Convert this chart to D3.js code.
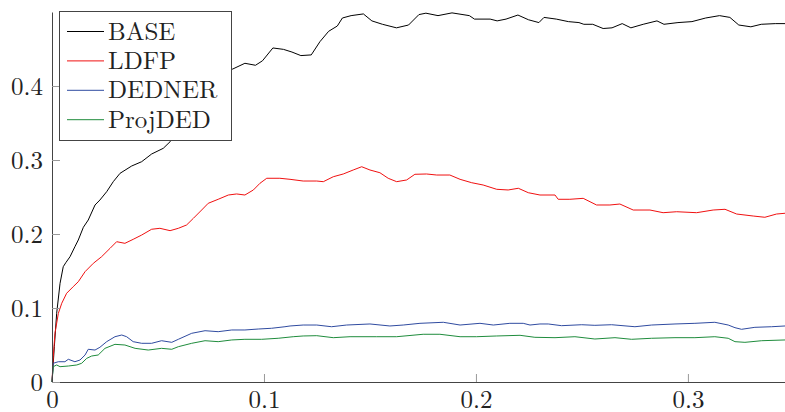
<!DOCTYPE html>
<html>
<head>
<meta charset="utf-8">
<script src="https://cdn.jsdelivr.net/npm/d3@7"></script>
<style>
  body { margin: 0; background: #fff; }
  svg { display: block; }
</style>
</head>
<body>
<svg id="chart" width="785" height="412"></svg>
<script>
// values: [x, y]
const seriesNames = ["BASE", "LDFP", "DEDNER", "ProjDED"];
const seriesColors = ["#000000", "#f01010", "#2f4ba0", "#1f8c3c"];

const baseData = [
  [0, 0], [0.0011, 0.0477], [0.0022, 0.0928], [0.0038, 0.1334], [0.0053, 0.1558],
  [0.0065, 0.1612], [0.0085, 0.1693], [0.0108, 0.1828], [0.0124, 0.1919], [0.0148, 0.2091],
  [0.0171, 0.2189], [0.0203, 0.2392], [0.0226, 0.2459], [0.0258, 0.2572], [0.0289, 0.2707],
  [0.0321, 0.2820], [0.0376, 0.2919], [0.0423, 0.2977], [0.0470, 0.3081], [0.0525, 0.3158],
  [0.0557, 0.3247], [0.0627, 0.345], [0.0698, 0.370], [0.0769, 0.400], [0.0850, 0.4226],
  [0.0910, 0.4307], [0.0960, 0.4280], [0.0993, 0.4341], [0.1042, 0.4514], [0.1092, 0.4495],
  [0.1132, 0.4459], [0.1174, 0.4411], [0.1223, 0.4420], [0.1264, 0.4599], [0.1305, 0.4739],
  [0.1346, 0.4811], [0.1370, 0.4919], [0.1411, 0.4951], [0.1469, 0.4974], [0.1509, 0.4880],
  [0.1559, 0.4834], [0.1625, 0.4786], [0.1682, 0.4824], [0.1731, 0.4965], [0.1764, 0.4984],
  [0.1821, 0.4951], [0.1887, 0.4988], [0.1969, 0.4951], [0.1993, 0.4904], [0.2067, 0.4904],
  [0.2100, 0.4880], [0.2142, 0.4904], [0.2198, 0.4959], [0.2248, 0.4895], [0.2297, 0.4857],
  [0.2321, 0.4927], [0.2379, 0.4904], [0.2436, 0.4870], [0.2486, 0.4857], [0.2509, 0.4834],
  [0.2551, 0.4834], [0.2600, 0.4777], [0.2642, 0.4786], [0.2690, 0.4843], [0.2731, 0.4786],
  [0.2789, 0.4834], [0.2854, 0.4880], [0.2887, 0.4834], [0.2953, 0.4857], [0.3019, 0.4870],
  [0.3084, 0.4919], [0.3149, 0.4951], [0.3198, 0.4927], [0.3240, 0.4824], [0.3297, 0.4800],
  [0.3346, 0.4834], [0.3412, 0.4843], [0.3458, 0.4843]
];

const ldfpData = [
  [0, 0], [0.0006, 0.0342], [0.0014, 0.0658], [0.0030, 0.0928], [0.0046, 0.1064],
  [0.0069, 0.1199], [0.0100, 0.1288], [0.0124, 0.1355], [0.0156, 0.1491], [0.0195, 0.1604],
  [0.0234, 0.1693], [0.0274, 0.1807], [0.0305, 0.1896], [0.0344, 0.1874], [0.0383, 0.1928],
  [0.0423, 0.1986], [0.0470, 0.2064], [0.0509, 0.2077], [0.0557, 0.2045], [0.0596, 0.2077],
  [0.0635, 0.2122], [0.0667, 0.2212], [0.0706, 0.2324], [0.0737, 0.2415], [0.0784, 0.2469],
  [0.0832, 0.2527], [0.0871, 0.2541], [0.0910, 0.2527], [0.0950, 0.2595], [0.0981, 0.2685],
  [0.1013, 0.2753], [0.1075, 0.2753], [0.1123, 0.2739], [0.1185, 0.2716], [0.1249, 0.2716],
  [0.1280, 0.2707], [0.1327, 0.2774], [0.1374, 0.2811], [0.1421, 0.2865], [0.1461, 0.2909],
  [0.1500, 0.2865], [0.1547, 0.2828], [0.1586, 0.2753], [0.1626, 0.2707], [0.1673, 0.2730],
  [0.1712, 0.2807], [0.1767, 0.2811], [0.1815, 0.2797], [0.1877, 0.2797], [0.1925, 0.2739],
  [0.1980, 0.2693], [0.2034, 0.2662], [0.2098, 0.2604], [0.2152, 0.2595], [0.2200, 0.2618],
  [0.2247, 0.2558], [0.2302, 0.2527], [0.2373, 0.2527], [0.2388, 0.2469], [0.2443, 0.2469],
  [0.2506, 0.2482], [0.2569, 0.2392], [0.2632, 0.2392], [0.2679, 0.2405], [0.2742, 0.2324],
  [0.2821, 0.2324], [0.2883, 0.2288], [0.2947, 0.2301], [0.3041, 0.2288], [0.3119, 0.2324],
  [0.3175, 0.2334], [0.3230, 0.2270], [0.3308, 0.2243], [0.3363, 0.2226], [0.3418, 0.2270],
  [0.3458, 0.2280]
];

const dednerData = [
  [0, 0], [0.0006, 0.0253], [0.0030, 0.0274], [0.0061, 0.0274], [0.0077, 0.0307],
  [0.0108, 0.0274], [0.0132, 0.0297], [0.0156, 0.0365], [0.0171, 0.0442], [0.0203, 0.0432],
  [0.0226, 0.0469], [0.0258, 0.0545], [0.0297, 0.0612], [0.0329, 0.0635], [0.0352, 0.0612],
  [0.0383, 0.0545], [0.0423, 0.0523], [0.0470, 0.0523], [0.0517, 0.0558], [0.0565, 0.0536],
  [0.0596, 0.0577], [0.0659, 0.0658], [0.0722, 0.0693], [0.0784, 0.0680], [0.0848, 0.0703],
  [0.0910, 0.0703], [0.0973, 0.0716], [0.1036, 0.0726], [0.1099, 0.0747], [0.1123, 0.0757],
  [0.1185, 0.0770], [0.1249, 0.0770], [0.1319, 0.0747], [0.1390, 0.0770], [0.1500, 0.0784],
  [0.1594, 0.0757], [0.1657, 0.0770], [0.1736, 0.0793], [0.1846, 0.0807], [0.1925, 0.0770],
  [0.2019, 0.0793], [0.2082, 0.0770], [0.2160, 0.0793], [0.2223, 0.0793], [0.2255, 0.0770],
  [0.2302, 0.0784], [0.2341, 0.0784], [0.2404, 0.0761], [0.2499, 0.0774], [0.2561, 0.0766],
  [0.2640, 0.0774], [0.2750, 0.0747], [0.2829, 0.0770], [0.2939, 0.0784], [0.3033, 0.0793],
  [0.3127, 0.0807], [0.3190, 0.0770], [0.3222, 0.0734], [0.3253, 0.0712], [0.3316, 0.0739],
  [0.3395, 0.0747], [0.3458, 0.0757]
];

const projdedData = [
  [0, 0], [0.0006, 0.0207], [0.0022, 0.0230], [0.0038, 0.0207], [0.0077, 0.0216],
  [0.0117, 0.0230], [0.0140, 0.0253], [0.0164, 0.0320], [0.0187, 0.0351], [0.0218, 0.0365],
  [0.0250, 0.0455], [0.0297, 0.0509], [0.0344, 0.0500], [0.0392, 0.0455], [0.0454, 0.0432],
  [0.0517, 0.0455], [0.0565, 0.0442], [0.0596, 0.0477], [0.0659, 0.0523], [0.0722, 0.0558],
  [0.0784, 0.0545], [0.0848, 0.0568], [0.0910, 0.0577], [0.0989, 0.0577], [0.1067, 0.0591],
  [0.1138, 0.0612], [0.1185, 0.0622], [0.1249, 0.0626], [0.1327, 0.0599], [0.1406, 0.0612],
  [0.1532, 0.0612], [0.1626, 0.0612], [0.1751, 0.0645], [0.1830, 0.0645], [0.1925, 0.0612],
  [0.2003, 0.0612], [0.2098, 0.0622], [0.2208, 0.0631], [0.2278, 0.0604], [0.2373, 0.0599],
  [0.2467, 0.0612], [0.2561, 0.0581], [0.2656, 0.0599], [0.2734, 0.0577], [0.2829, 0.0591],
  [0.2939, 0.0599], [0.3033, 0.0599], [0.3127, 0.0612], [0.3190, 0.0591], [0.3222, 0.0545],
  [0.3269, 0.0536], [0.3348, 0.0558], [0.3458, 0.0568]
];

const xTicks = [0, 0.1, 0.2, 0.3];
const xTickLabels = ["0", "0.1", "0.2", "0.3"];
const yTicks = [0, 0.1, 0.2, 0.3, 0.4];
const yTickLabels = ["0", "0.1", "0.2", "0.3", "0.4"];

const allData = [baseData, ldfpData, dednerData, projdedData];

const svg = d3.select("#chart");
const plotLeft = 52, plotRight = 785, plotTop = 12, plotBottom = 382;
const serif = "'Latin Modern Roman', 'CMU Serif', 'Liberation Serif', 'DejaVu Serif', serif";

const x = d3.scaleLinear().domain([0, 0.3458]).range([plotLeft, plotRight]);
const y = d3.scaleLinear().domain([0, 0.5]).range([plotBottom, plotTop]);

const line = d3.line()
  .x(d => x(d[0]))
  .y(d => y(d[1]));

// curves
svg.append("g")
  .selectAll("path")
  .data(allData)
  .join("path")
  .attr("d", line)
  .attr("fill", "none")
  .attr("stroke", (d, i) => seriesColors[i])
  .attr("stroke-width", 1)
  .attr("stroke-linejoin", "round");

// axes
const xAxis = d3.axisBottom(x)
  .tickValues(xTicks)
  .tickFormat((d, i) => xTickLabels[i])
  .tickSizeInner(-8)
  .tickSizeOuter(0)
  .tickPadding(8);

const yAxis = d3.axisLeft(y)
  .tickValues(yTicks)
  .tickFormat((d, i) => yTickLabels[i])
  .tickSizeInner(-8)
  .tickSizeOuter(0)
  .tickPadding(9);

const gx = svg.append("g")
  .attr("transform", `translate(0, ${plotBottom})`)
  .call(xAxis);

const gy = svg.append("g")
  .attr("transform", `translate(${plotLeft}, 0)`)
  .call(yAxis);

[gx, gy].forEach(g => {
  g.select(".domain").attr("stroke", "#444").attr("stroke-width", 1);
  g.selectAll(".tick line").attr("stroke", "#999").attr("stroke-width", 1);
  g.selectAll(".tick text")
    .attr("fill", "#222")
    .style("font-family", serif)
    .style("font-size", "25px");
});

// legend
const legend = svg.append("g");
legend.append("rect")
  .attr("x", 59.5).attr("y", 11.5)
  .attr("width", 172).attr("height", 129)
  .attr("fill", "#fff")
  .attr("stroke", "#444")
  .attr("stroke-width", 1);

const rows = legend.selectAll("g.row")
  .data(seriesNames)
  .join("g")
  .attr("class", "row")
  .attr("transform", (d, i) => `translate(0, ${39.5 + i * 29.4})`);

rows.append("line")
  .attr("x1", 67).attr("x2", 104)
  .attr("y1", -8).attr("y2", -8)
  .attr("stroke", (d, i) => seriesColors[i])
  .attr("stroke-width", 1);

rows.append("text")
  .attr("x", 108)
  .attr("y", 0)
  .text(d => d)
  .attr("fill", "#222")
  .style("font-family", serif)
  .style("font-size", "25px");
</script>
</body>
</html>
